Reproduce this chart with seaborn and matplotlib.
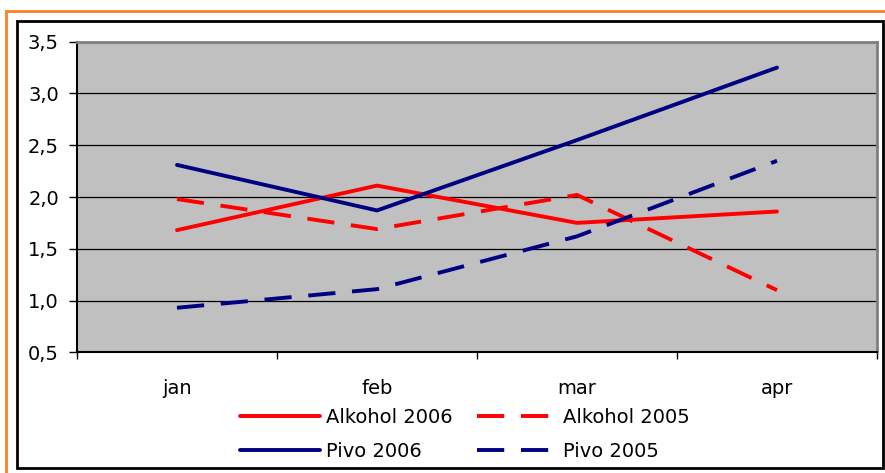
import seaborn as sns
import matplotlib.pyplot as plt
from matplotlib.patches import Rectangle
from matplotlib.ticker import FuncFormatter

months = ["jan", "feb", "mar", "apr"]
alkohol_2006 = [1.68, 2.11, 1.75, 1.86]
alkohol_2005 = [1.98, 1.69, 2.02, 1.10]
pivo_2006 = [2.31, 1.87, 2.55, 3.25]
pivo_2005 = [0.93, 1.11, 1.62, 2.35]

red = "#FF0000"
navy = "#000080"
dash = (0, (7, 4.3))

sns.set_style("white")
plt.rcParams["font.family"] = ["DejaVu Sans"]
plt.rcParams["text.color"] = "black"
plt.rcParams["xtick.color"] = "black"
plt.rcParams["ytick.color"] = "black"

fig = plt.figure(figsize=(8.85, 4.73), dpi=100)
ax = fig.add_axes([77 / 885, 1 - 352.3 / 473, 800 / 885, 310.6 / 473])
ax.set_facecolor("#C0C0C0")

lw = 2.8
sns.lineplot(x=months, y=alkohol_2006, color=red, lw=lw, solid_capstyle="round", label="Alkohol 2006", ax=ax)
sns.lineplot(x=months, y=pivo_2006, color=navy, lw=lw, solid_capstyle="round", label="Pivo 2006", ax=ax)
sns.lineplot(x=months, y=alkohol_2005, color=red, lw=lw, linestyle=dash, label="Alkohol 2005", ax=ax)
sns.lineplot(x=months, y=pivo_2005, color=navy, lw=lw, linestyle=dash, label="Pivo 2005", ax=ax)

ax.set_xlim(-0.5, 3.5)
ax.set_ylim(0.5, 3.5)
ax.set_yticks([0.5, 1.0, 1.5, 2.0, 2.5, 3.0, 3.5])
ax.yaxis.set_major_formatter(FuncFormatter(lambda v, p: f"{v:.1f}".replace(".", ",")))
ax.tick_params(axis="y", direction="out", length=6, width=1, color="black",
               labelsize=14, pad=7, left=True, labelcolor="black")

# category boundaries as ticks, labels in between
ax.set_xticks([-0.5, 0.5, 1.5, 2.5, 3.5])
ax.set_xticklabels([])
ax.set_xticks(range(len(months)), minor=True)
ax.set_xticklabels(months, minor=True)
ax.tick_params(axis="x", which="major", direction="out", length=5, width=1, color="black", bottom=True)
ax.tick_params(axis="x", which="minor", length=0, labelsize=14, pad=19, labelcolor="black")

for y in [1.0, 1.5, 2.0, 2.5, 3.0]:
    ax.axhline(y, color="black", lw=0.9, zorder=0.5)

for s in ["left", "bottom"]:
    ax.spines[s].set_color("black")
    ax.spines[s].set_linewidth(1.5)
for s in ["top", "right"]:
    ax.spines[s].set_color("#808080")
    ax.spines[s].set_linewidth(2)
ax.set_xlabel("")
ax.set_ylabel("")

h, l = ax.get_legend_handles_labels()
ax.legend(h, l, ncol=2, loc="upper left", bbox_to_anchor=(240 / 885, 1 - 408 / 473),
          bbox_transform=fig.transFigure, frameon=False, fontsize=14,
          borderpad=0, borderaxespad=0, handlelength=4.1, handletextpad=0.3,
          columnspacing=1.3, labelspacing=0.75)

# chart frame and outer orange frame
fig.patches.append(Rectangle((6 / 885, -0.1), 2, 1 - 11 / 473 + 0.1, transform=fig.transFigure,
                             fill=False, edgecolor="#FF7F27", lw=2))
fig.patches.append(Rectangle((17 / 885, 1 - 468 / 473), 866 / 885, 447 / 473, transform=fig.transFigure,
                             fill=False, edgecolor="black", lw=2))

fig.savefig("out.png", dpi=100)
